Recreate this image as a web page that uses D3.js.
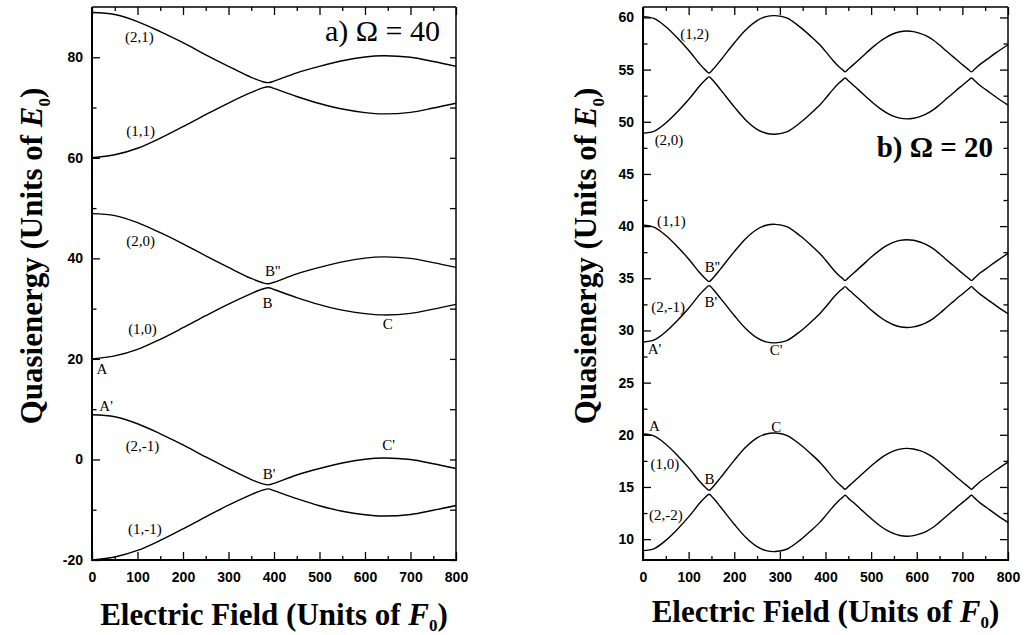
<!DOCTYPE html>
<html>
<head>
<meta charset="utf-8">
<script src="https://cdn.jsdelivr.net/npm/d3@7"></script>
<style>
body { margin: 0; background: #fff; }
svg { display: block; }
.tick text { font-family: "Liberation Sans", Arial, sans-serif; font-weight: bold; font-size: 14px; fill: #000; }
.tick line { stroke: #000; stroke-width: 1.3; }
.lbl { font-family: "Liberation Serif", "Times New Roman", serif; font-size: 15px; fill: #000; }
.ttl { font-family: "Liberation Serif", "Times New Roman", serif; font-weight: bold; font-size: 31px; fill: #000; }
</style>
</head>
<body>
<div id="chart-area"></div>
<script>
// panel a) Omega = 40
const A_FIELD = [0, 50, 100, 150, 200, 250, 300, 350, 375, 388, 400, 450, 500, 550, 600, 640, 700, 750, 800];
const A_21  = [88.9, 88.5, 87.1, 85.1, 82.9, 80.5, 78.2, 76.0, 75.15, 74.95, 75.25, 76.9, 78.2, 79.3, 80.05, 80.3, 80.0, 79.15, 78.2];
const A_11  = [60.0, 60.6, 61.9, 63.9, 66.2, 68.6, 70.9, 73.0, 73.9, 74.15, 73.8, 72.2, 70.8, 69.7, 69.0, 68.75, 69.05, 69.9, 70.85];
const A_20  = [48.9, 48.5, 47.1, 45.1, 42.9, 40.5, 38.2, 36.0, 35.15, 34.95, 35.25, 36.9, 38.2, 39.3, 40.05, 40.3, 40.0, 39.15, 38.2];
const A_10  = [20.0, 20.6, 21.9, 23.9, 26.2, 28.6, 30.9, 33.0, 33.9, 34.15, 33.8, 32.2, 30.8, 29.7, 29.0, 28.75, 29.05, 29.9, 30.85];
const A_2M1 = [8.9, 8.5, 7.1, 5.1, 2.9, 0.5, -1.8, -4.0, -4.85, -5.05, -4.75, -3.1, -1.8, -0.7, 0.05, 0.3, 0.0, -0.85, -1.8];
const A_1M1 = [-20.0, -19.4, -18.1, -16.1, -13.8, -11.4, -9.1, -7.0, -6.1, -5.85, -6.2, -7.8, -9.2, -10.3, -11.0, -11.25, -10.95, -10.1, -9.15];

const A_LABELS = ["(2,1)", "(1,1)", "(2,0)", "B''", "B", "(1,0)", "C", "A", "A'", "(2,-1)", "C'", "B'", "(1,-1)"];
const A_LABEL_X = [104, 107, 107, 397, 386, 111, 650, 22, 31, 111, 652, 389, 116];
const A_LABEL_Y = [83.0, 64.3, 42.5, 36.5, 30.1, 25.0, 26.0, 17.0, 9.6, 1.7, 1.9, -3.9, -14.8];

// panel b) Omega = 20
const B_FIELD = [0, 25, 50, 75, 100, 125, 137, 145, 153, 170, 200, 225, 250, 270, 290, 315, 345, 370, 388, 400,
  417, 430, 437, 443, 450, 460, 475, 490, 505, 520, 534, 550, 563, 578, 593, 607, 620, 636, 650, 665,
  680, 695, 708, 714, 720, 727, 740, 753, 775, 800];
const B_12  = [60.08, 59.88, 59.1, 58.05, 56.85, 55.5, 54.95, 54.68, 55.0, 55.9, 57.55, 58.8, 59.7, 60.08, 60.17, 59.95, 59.05, 58.1, 57.35, 56.75,
  55.85, 55.25, 55.0, 54.78, 55.05, 55.43, 56.02, 56.62, 57.2, 57.72, 58.12, 58.46, 58.63, 58.7, 58.64, 58.48, 58.25, 57.84, 57.35, 56.78,
  56.22, 55.66, 55.2, 54.98, 54.78, 55.05, 55.55, 55.95, 56.65, 57.38];
const B_20  = [48.9, 49.1, 49.88, 50.93, 52.13, 53.48, 54.03, 54.3, 53.98, 53.08, 51.43, 50.18, 49.28, 48.9, 48.81, 49.03, 49.93, 50.88, 51.63, 52.23,
  53.13, 53.73, 53.98, 54.2, 53.93, 53.55, 52.96, 52.36, 51.78, 51.26, 50.86, 50.52, 50.35, 50.28, 50.34, 50.5, 50.73, 51.14, 51.63, 52.2,
  52.76, 53.32, 53.78, 54.0, 54.2, 53.93, 53.43, 53.03, 52.33, 51.6];
const B_11  = [40.08, 39.88, 39.1, 38.05, 36.85, 35.5, 34.95, 34.68, 35.0, 35.9, 37.55, 38.8, 39.7, 40.08, 40.17, 39.95, 39.05, 38.1, 37.35, 36.75,
  35.85, 35.25, 35.0, 34.78, 35.05, 35.43, 36.02, 36.62, 37.2, 37.72, 38.12, 38.46, 38.63, 38.7, 38.64, 38.48, 38.25, 37.84, 37.35, 36.78,
  36.22, 35.66, 35.2, 34.98, 34.78, 35.05, 35.55, 35.95, 36.65, 37.38];
const B_2M1 = [28.9, 29.1, 29.88, 30.93, 32.13, 33.48, 34.03, 34.3, 33.98, 33.08, 31.43, 30.18, 29.28, 28.9, 28.81, 29.03, 29.93, 30.88, 31.63, 32.23,
  33.13, 33.73, 33.98, 34.2, 33.93, 33.55, 32.96, 32.36, 31.78, 31.26, 30.86, 30.52, 30.35, 30.28, 30.34, 30.5, 30.73, 31.14, 31.63, 32.2,
  32.76, 33.32, 33.78, 34.0, 34.2, 33.93, 33.43, 33.03, 32.33, 31.6];
const B_10  = [20.08, 19.88, 19.1, 18.05, 16.85, 15.5, 14.95, 14.68, 15.0, 15.9, 17.55, 18.8, 19.7, 20.08, 20.17, 19.95, 19.05, 18.1, 17.35, 16.75,
  15.85, 15.25, 15.0, 14.78, 15.05, 15.43, 16.02, 16.62, 17.2, 17.72, 18.12, 18.46, 18.63, 18.7, 18.64, 18.48, 18.25, 17.84, 17.35, 16.78,
  16.22, 15.66, 15.2, 14.98, 14.78, 15.05, 15.55, 15.95, 16.65, 17.38];
const B_2M2 = [8.9, 9.1, 9.88, 10.93, 12.13, 13.48, 14.03, 14.3, 13.98, 13.08, 11.43, 10.18, 9.28, 8.9, 8.81, 9.03, 9.93, 10.88, 11.63, 12.23,
  13.13, 13.73, 13.98, 14.2, 13.93, 13.55, 12.96, 12.36, 11.78, 11.26, 10.86, 10.52, 10.35, 10.28, 10.34, 10.5, 10.73, 11.14, 11.63, 12.2,
  12.76, 13.32, 13.78, 14.0, 14.2, 13.93, 13.43, 13.03, 12.33, 11.6];

const B_LABELS = ["(1,2)", "(2,0)", "(1,1)", "B''", "B'", "(2,-1)", "A'", "C'", "A", "C", "(1,0)", "B", "(2,-2)"];
const B_LABEL_X = [113, 57, 62, 152, 149, 55, 25, 292, 25, 292, 48, 146, 50];
const B_LABEL_Y = [57.9, 47.8, 40.0, 35.6, 32.2, 31.8, 27.7, 27.6, 20.4, 20.3, 16.7, 15.3, 11.8];

const FIELD_MAJOR = [0, 100, 200, 300, 400, 500, 600, 700, 800];
const FIELD_MINOR = [50, 150, 250, 350, 450, 550, 650, 750];

const svg = d3.select("#chart-area").append("svg")
  .attr("width", 1025)
  .attr("height", 635);

function drawPanel(p) {
  const g = svg.append("g");
  const x = d3.scaleLinear().domain([0, 800]).range([p.left, p.right]);
  const y = d3.scaleLinear().domain(p.yDomain).range([p.bottom, p.top]);

  // bottom axis
  g.append("g").attr("transform", `translate(0,${p.bottom})`)
    .call(d3.axisBottom(x).tickValues(FIELD_MINOR).tickSize(-4).tickFormat(""));
  g.append("g").attr("transform", `translate(0,${p.bottom})`)
    .call(d3.axisBottom(x).tickValues(FIELD_MAJOR).tickSize(-8).tickPadding(12).tickFormat(d => d));
  // top axis
  g.append("g").attr("transform", `translate(0,${p.top})`)
    .call(d3.axisTop(x).tickValues(FIELD_MINOR).tickSize(-4).tickFormat(""));
  g.append("g").attr("transform", `translate(0,${p.top})`)
    .call(d3.axisTop(x).tickValues(FIELD_MAJOR).tickSize(-8).tickFormat(""));
  // left axis
  g.append("g").attr("transform", `translate(${p.left},0)`)
    .call(d3.axisLeft(y).tickValues(p.yMinor).tickSize(-4.5).tickFormat(""));
  g.append("g").attr("transform", `translate(${p.left},0)`)
    .call(d3.axisLeft(y).tickValues(p.yMajor).tickSize(-8).tickPadding(9).tickFormat(d => String(d)));
  // right axis
  g.append("g").attr("transform", `translate(${p.right},0)`)
    .call(d3.axisRight(y).tickValues(p.yMinor).tickSize(-p.rightMinor).tickFormat(""));
  g.append("g").attr("transform", `translate(${p.right},0)`)
    .call(d3.axisRight(y).tickValues(p.yMajor).tickSize(-p.rightMajor).tickFormat(""));

  g.selectAll(".domain").remove();
  g.selectAll(".tick text").filter(function () { return this.textContent === ""; }).remove();

  // frame
  g.append("line").attr("x1", p.left).attr("x2", p.right).attr("y1", p.top).attr("y2", p.top)
    .attr("stroke", "#000").attr("stroke-width", 1.3);
  g.append("line").attr("x1", p.right).attr("x2", p.right).attr("y1", p.top).attr("y2", p.bottom)
    .attr("stroke", "#000").attr("stroke-width", 1.5);
  g.append("line").attr("x1", p.left).attr("x2", p.left).attr("y1", p.top).attr("y2", p.bottom + 1)
    .attr("stroke", "#000").attr("stroke-width", 2);
  g.append("line").attr("x1", p.left - 1).attr("x2", p.right + 1).attr("y1", p.bottom).attr("y2", p.bottom)
    .attr("stroke", "#000").attr("stroke-width", 2);

  const line = d3.line()
    .x(d => x(d[0]))
    .y(d => y(d[1]))
    .curve(d3.curveCatmullRom.alpha(0.5));

  g.selectAll(".curve")
    .data(p.series)
    .enter()
    .append("path")
    .attr("class", "curve")
    .attr("fill", "none")
    .attr("stroke", "#000")
    .attr("stroke-width", 1.4)
    .attr("d", s => line(d3.zip(p.field, s)));

  g.selectAll(".lbl")
    .data(p.labels)
    .enter()
    .append("text")
    .attr("class", "lbl")
    .attr("x", (d, i) => x(p.labelX[i]))
    .attr("y", (d, i) => y(p.labelY[i]))
    .attr("text-anchor", "middle")
    .text(d => d);

  // y title
  const yt = g.append("text")
    .attr("class", "ttl")
    .attr("transform", `translate(${p.yTitleX},256) rotate(-90)`)
    .attr("text-anchor", "middle");
  yt.append("tspan").text("Quasienergy (Units of ");
  yt.append("tspan").attr("font-style", "italic").text("E");
  yt.append("tspan").attr("dy", 8).attr("font-size", "17px").text("0");
  yt.append("tspan").attr("dy", -8).text(")");

  // x title
  const xt = g.append("text")
    .attr("class", "ttl")
    .attr("x", (p.left + p.right) / 2)
    .attr("y", p.xTitleY)
    .attr("text-anchor", "middle");
  xt.append("tspan").text("Electric Field (Units of ");
  xt.append("tspan").attr("font-style", "italic").text("F");
  xt.append("tspan").attr("dy", 6).attr("font-size", "17px").text("0");
  xt.append("tspan").attr("dy", -6).text(")");

  g.append("text")
    .attr("x", p.titleX)
    .attr("y", p.titleY)
    .attr("text-anchor", "end")
    .style("font-family", '"Liberation Serif", "Times New Roman", serif')
    .style("font-size", p.titleSize)
    .style("font-weight", p.titleWeight)
    .text(p.title);
}

drawPanel({
  left: 92, right: 456, top: 7, bottom: 560,
  yDomain: [-20, 90],
  yMajor: [-20, 0, 20, 40, 60, 80],
  yMinor: [-10, 10, 30, 50, 70],
  rightMajor: 6, rightMinor: 6,
  field: A_FIELD,
  series: [A_21, A_11, A_20, A_10, A_2M1, A_1M1],
  labels: A_LABELS, labelX: A_LABEL_X, labelY: A_LABEL_Y,
  yTitleX: 42, xTitleY: 625,
  title: "a) \u03A9 = 40", titleX: 440, titleY: 41, titleSize: "30px", titleWeight: "normal"
});

drawPanel({
  left: 643, right: 1008, top: 7, bottom: 560,
  yDomain: [8, 61],
  yMajor: [10, 15, 20, 25, 30, 35, 40, 45, 50, 55, 60],
  yMinor: [12.5, 17.5, 22.5, 27.5, 32.5, 37.5, 42.5, 47.5, 52.5, 57.5],
  rightMajor: 8, rightMinor: 4.5,
  field: B_FIELD,
  series: [B_12, B_20, B_11, B_2M1, B_10, B_2M2],
  labels: B_LABELS, labelX: B_LABEL_X, labelY: B_LABEL_Y,
  yTitleX: 596, xTitleY: 622,
  title: "b) \u03A9 = 20", titleX: 993, titleY: 157, titleSize: "29px", titleWeight: "bold"
});
</script>
</body>
</html>
